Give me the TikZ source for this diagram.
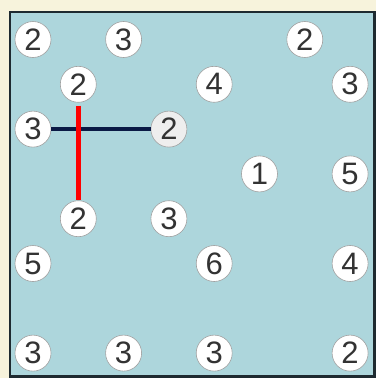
\documentclass[tikz,border=0pt]{standalone}
\usepackage{fontspec}
\setmainfont{Liberation Sans}
\definecolor{hsCream}{HTML}{F7F3DC}
\definecolor{hsBoard}{HTML}{ADD6DC}
\definecolor{hsFrame}{HTML}{1E2A30}
\definecolor{hsRing}{HTML}{A0A0A0}
\definecolor{hsDigit}{HTML}{333333}
\definecolor{hsPick}{HTML}{EEEEEE}
\definecolor{hsNavy}{HTML}{0A1A45}
\definecolor{hsRed}{HTML}{FF0000}

\begin{document}
\begin{tikzpicture}[x=1pt, y=-1pt, font=\fontsize{31}{31}\selectfont,
  isle/.style={circle, draw=hsRing, line width=0.6pt, text=hsDigit, minimum size=36pt, inner sep=0pt},
  bridge/.style={line width=4.5pt}]
  \useasboundingbox (0,0) rectangle (376,378);
  \fill[hsCream] (0,0) rectangle (376,378);
  \draw[hsFrame, line width=2.5pt, fill=hsBoard] (10,12) rectangle (374.5,376.5);
  % islands: column/row/number/fill
  \foreach \c/\r/\n/\f in {0/0/2/white, 2/0/3/white, 6/0/2/white, 1/1/2/white, 4/1/4/white, 7/1/3/white,
      0/2/3/white, 3/2/2/hsPick, 5/3/1/white, 7/3/5/white, 1/4/2/white, 3/4/3/white,
      0/5/5/white, 4/5/6/white, 7/5/4/white, 0/7/3/white, 2/7/3/white, 4/7/3/white, 7/7/2/white}
    \node[isle, fill=\f] (i\c\r) at ({33+45.3*\c},{39.5+44.8*\r}) {\n};
  % bridges
  \draw[bridge, hsNavy] (i02) -- (i32);
  \draw[bridge, hsRed, shorten <=3pt] (i11) -- (i14);
\end{tikzpicture}
\end{document}
